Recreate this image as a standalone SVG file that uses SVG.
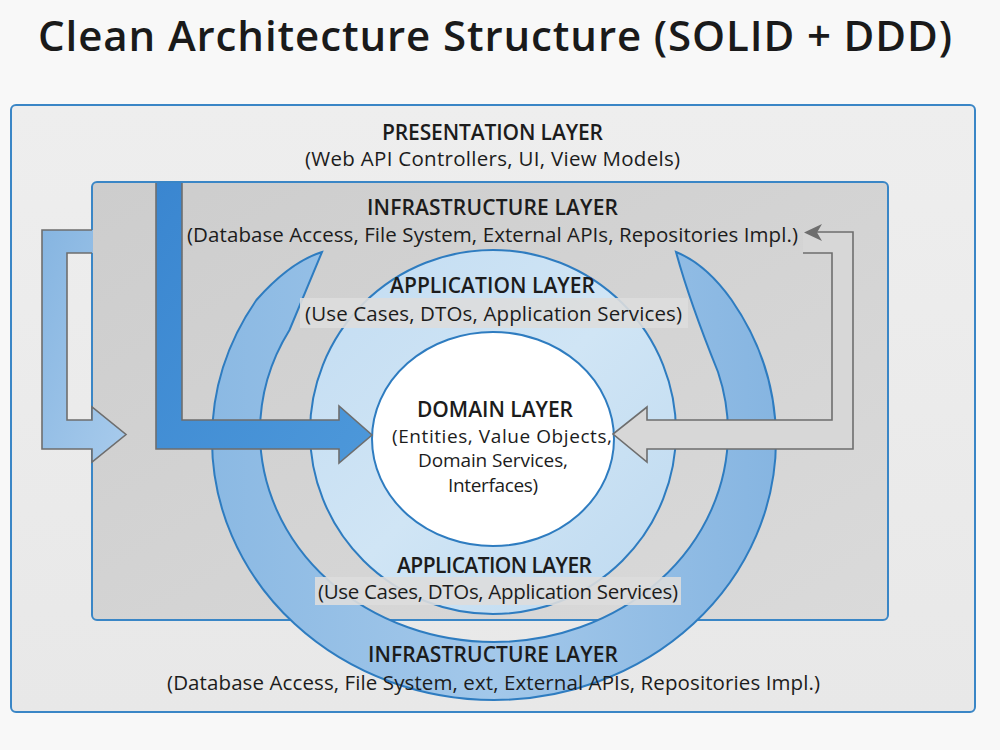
<svg xmlns="http://www.w3.org/2000/svg" width="1000" height="750" viewBox="0 0 1000 750">
  <defs>
    <linearGradient id="gOuter" x1="0" y1="0" x2="0" y2="1">
      <stop offset="0" stop-color="#eeeeee"/>
      <stop offset="1" stop-color="#e8e8e8"/>
    </linearGradient>
    <linearGradient id="gInner" x1="0" y1="0" x2="1" y2="1">
      <stop offset="0" stop-color="#cdcdcd"/>
      <stop offset="1" stop-color="#dadada"/>
    </linearGradient>
    <linearGradient id="gInfra" x1="0" y1="0" x2="1" y2="0">
      <stop offset="0" stop-color="#8bb9e3"/>
      <stop offset="0.5" stop-color="#a3c8ea"/>
      <stop offset="1" stop-color="#86b5e1"/>
    </linearGradient>
    <linearGradient id="gApp" x1="0" y1="0" x2="1" y2="1">
      <stop offset="0" stop-color="#c2dcf2"/>
      <stop offset="0.5" stop-color="#d0e5f5"/>
      <stop offset="1" stop-color="#bdd9f0"/>
    </linearGradient>
    <linearGradient id="gBlue" x1="0" y1="0" x2="1" y2="1">
      <stop offset="0" stop-color="#3a86d0"/>
      <stop offset="1" stop-color="#4d98da"/>
    </linearGradient>
    <linearGradient id="gLight" x1="0" y1="0" x2="1" y2="1">
      <stop offset="0" stop-color="#86b5e1"/>
      <stop offset="1" stop-color="#a8cbec"/>
    </linearGradient>
    <style>
      .title { font-family: "Open Sans", "Liberation Sans", sans-serif; font-weight: 600; font-size: 42px; fill: #1a1a1a; }
      .hdr { font-family: "Open Sans", "Liberation Sans", sans-serif; font-weight: 600; font-size: 21px; fill: #1c1c1c; }
      .sub { font-family: "Open Sans", "Liberation Sans", sans-serif; font-weight: 400; font-size: 20.5px; fill: #1c1c1c; }
      .dsub { font-family: "Open Sans", "Liberation Sans", sans-serif; font-weight: 400; font-size: 19px; fill: #1c1c1c; }
      .frame { stroke: #3a86c6; stroke-width: 2; }
      .ring { stroke: #2e7cc0; stroke-width: 2; }
      .arrowline { stroke: #6e6e6e; stroke-width: 1.6; stroke-linejoin: miter; }
      .lblbox { fill: #dddddd; fill-opacity: 0.9; }
    </style>
  </defs>

  <rect x="0" y="0" width="1000" height="750" fill="#f8f8f8"/>

  <text class="title" x="38" y="51" textLength="914" lengthAdjust="spacing">Clean Architecture Structure (SOLID + DDD)</text>

  <g id="presentation-layer">
    <rect class="frame" x="11" y="105" width="964" height="607" rx="5" fill="url(#gOuter)"/>
    <text class="hdr" x="382" y="140" textLength="221" lengthAdjust="spacing">PRESENTATION LAYER</text>
    <text class="sub" x="305" y="166" textLength="375" lengthAdjust="spacing">(Web API Controllers, UI, View Models)</text>
  </g>

  <g id="infrastructure-layer">
    <rect class="frame" x="92" y="182" width="796" height="438" rx="5" fill="url(#gInner)"/>
    <path class="ring" fill="url(#gInfra)" d="M322,252 Q290,262 256.4,300 A282,260 0 0 0 212,440 A282,260 0 0 0 494,700 A282,260 0 0 0 776,440 A282,260 0 0 0 731.6,300 Q706,264 676,252 Q689,300 718,372 A234,210 0 0 1 728,432 A234,210 0 0 1 494,642 A234,210 0 0 1 260,432 A234,210 0 0 1 289.5,330 Z"/>
    <text class="hdr" x="367" y="215" textLength="251" lengthAdjust="spacing">INFRASTRUCTURE LAYER</text>
    <text class="sub" x="187" y="242" textLength="611" lengthAdjust="spacing">(Database Access, File System, External APIs, Repositories Impl.)</text>
    <text class="hdr" x="368" y="662" textLength="250" lengthAdjust="spacing">INFRASTRUCTURE LAYER</text>
    <text class="sub" x="167" y="690" textLength="653" lengthAdjust="spacing">(Database Access, File System, ext, External APIs, Repositories Impl.)</text>
  </g>

  <g id="application-layer">
    <ellipse class="ring" cx="493" cy="432" rx="183" ry="182" fill="url(#gApp)"/>
    <rect class="lblbox" x="300" y="298" width="388" height="30"/>
    <rect class="lblbox" x="315" y="577" width="366" height="28"/>
    <text class="hdr" x="390" y="293" textLength="205" lengthAdjust="spacing">APPLICATION LAYER</text>
    <text class="sub" x="305" y="321" textLength="377" lengthAdjust="spacing">(Use Cases, DTOs, Application Services)</text>
    <text class="hdr" x="397" y="573" textLength="195" lengthAdjust="spacing">APPLICATION LAYER</text>
    <text class="sub" x="318" y="599" textLength="360" lengthAdjust="spacing">(Use Cases, DTOs, Application Services)</text>
  </g>

  <g id="domain-layer">
    <ellipse class="ring" cx="493" cy="439" rx="121" ry="107" fill="#ffffff"/>
    <text class="hdr" x="417" y="417" textLength="156" lengthAdjust="spacing">DOMAIN LAYER</text>
    <text class="dsub" x="392" y="443" textLength="220" lengthAdjust="spacing">(Entities, Value Objects,</text>
    <text class="dsub" x="418" y="467" textLength="150" lengthAdjust="spacing">Domain Services,</text>
    <text class="dsub" x="448" y="492" textLength="90" lengthAdjust="spacing">Interfaces)</text>
  </g>

  <g id="connectors">
    <path fill="url(#gLight)" stroke="none" d="M93,230 L42,230 L42,449 L92,449 L92,462 L126,434.5 L92,407 L92,420 L67,420 L67,253 L93,253 Z"/>
    <path class="arrowline" fill="none" d="M92,230 L42,230 L42,449 L92,449 L92,462 L126,434.5 L92,407 L92,420 L67,420 L67,253 L92,253"/>

    <path fill="url(#gBlue)" stroke="none" d="M156,183 L156,449 L339,449 L339,463 L372,435 L339,406 L339,420 L182,420 L182,183 Z"/>
    <path class="arrowline" fill="none" d="M156,183 L156,449 L339,449 L339,463 L372,435 L339,406 L339,420 L182,420 L182,183"/>

    <path fill="#d7d7d7" stroke="none" d="M613,434 L647,407 L647,420 L832,420 L832,253 L803,253 L803,232 L853,232 L853,449 L647,449 L647,462 Z"/>
    <path class="arrowline" fill="none" d="M803,253 L832,253 L832,420 L647,420 L647,407 L613,434 L647,462 L647,449 L853,449 L853,232 L816,232"/>
    <polygon points="804,232.5 822,224 817,232.5 822,241" fill="#6e6e6e"/>
  </g>
</svg>
